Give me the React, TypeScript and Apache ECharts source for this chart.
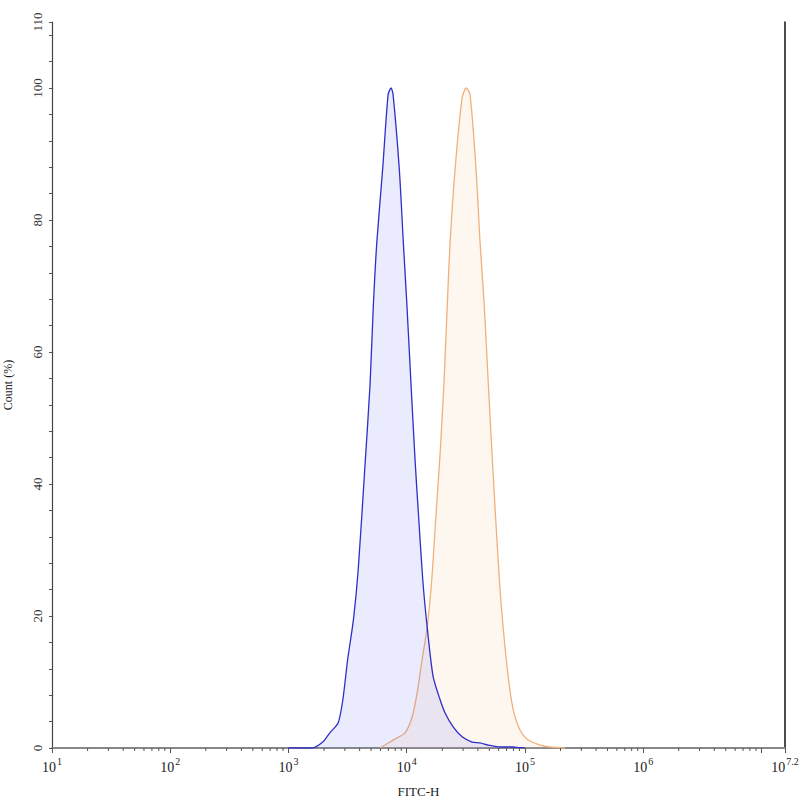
import React, { useEffect, useRef } from "react";
import * as echarts from "echarts";

// x values are log10(FITC-H)
const blueLog10 = [3.0, 3.2, 3.29, 3.35, 3.42, 3.46, 3.5, 3.55, 3.59, 3.648, 3.69, 3.718, 3.747, 3.798, 3.843, 3.868, 3.885, 3.938, 3.972, 4.001, 4.037, 4.071, 4.099, 4.136, 4.173, 4.223, 4.283, 4.325, 4.393, 4.469, 4.553, 4.62, 4.69, 4.79, 4.9, 4.94, 5.0];
const blueCount = [0, 0, 0.9, 2.3, 3.8, 7.3, 13.3, 19.5, 27, 43, 55, 67, 76.5, 88, 99, 100, 99, 87.6, 76.5, 67.4, 55, 43.6, 35.6, 25.5, 18.4, 10.9, 7.3, 5.3, 3.2, 1.7, 0.9, 0.76, 0.45, 0.15, 0.15, 0.08, 0];

const orangeLog10 = [3.775, 3.885, 3.986, 4.046, 4.088, 4.13, 4.173, 4.212, 4.249, 4.283, 4.316, 4.344, 4.367, 4.409, 4.469, 4.503, 4.536, 4.587, 4.621, 4.655, 4.691, 4.734, 4.784, 4.816, 4.858, 4.9, 4.959, 5.027, 5.129, 5.213, 5.34];
const orangeCount = [0, 1.2, 2.3, 4.7, 8.3, 13.3, 18.3, 25.5, 35.6, 44.7, 55.5, 67.4, 76.5, 87.6, 98.5, 100, 99, 87.6, 76.5, 67.4, 55, 40.6, 25.5, 18.3, 10.9, 5.9, 2.7, 1.2, 0.45, 0.15, 0];

const decades = [1, 2, 3, 4, 5, 6, 7];
const minorMultipliers = [2, 3, 4, 5, 6, 7, 8, 9];
const xLabelValues = [1, 2, 3, 4, 5, 6, 7.2];
const yLabelValues = [0, 20, 40, 60, 80, 100, 110];

const X_MIN = 1;
const X_MAX = 7.2;
const FONT = "'Liberation Serif', 'Times New Roman', Times, serif";

export default function App() {
  const ref = useRef<HTMLDivElement>(null);
  useEffect(() => {
    document.body.style.margin = "0";
    const chart = echarts.init(ref.current!, null, { renderer: "svg" });

    const minorTicks: number[][] = [];
    decades.forEach((d) => {
      minorMultipliers.forEach((m) => {
        const v = d + Math.log10(m);
        if (v < X_MAX) minorTicks.push([v, 0]);
      });
    });

    const fmtX = (v: number) => {
      const hit = xLabelValues.some((t) => Math.abs(t - v) < 1e-6);
      if (!hit) return "";
      const e = Math.abs(v - Math.round(v)) < 1e-6 ? String(Math.round(v)) : v.toFixed(1);
      return `{b|10}{s|${e}}`;
    };

    chart.setOption({
      animation: false,
      backgroundColor: "#fff",
      grid: { left: 52, right: 15, top: 22, bottom: 52, containLabel: false, outerBoundsMode: "none" },
      xAxis: [
        {
          type: "value",
          min: X_MIN,
          max: X_MAX,
          interval: 1,
          position: "bottom",
          name: "FITC-H",
          nameLocation: "middle",
          nameGap: 37,
          nameTextStyle: { fontFamily: FONT, fontSize: 13, color: "#222" },
          axisLine: { lineStyle: { color: "#555", width: 1.2 } },
          axisTick: { length: 5, lineStyle: { color: "#555" } },
          axisLabel: {
            margin: 8,
            formatter: fmtX,
            rich: {
              b: { fontFamily: FONT, fontSize: 14, color: "#222", lineHeight: 18, verticalAlign: "bottom" },
              s: { fontFamily: FONT, fontSize: 10, color: "#222", lineHeight: 18, verticalAlign: "top", padding: [0, 0, 7, 1] },
            },
          },
          splitLine: { show: false },
        },
        {
          type: "value",
          min: X_MIN,
          max: X_MAX,
          position: "top",
          axisLine: { show: true, lineStyle: { color: "#888", width: 2 } },
          axisTick: { show: false },
          axisLabel: { show: false },
          splitLine: { show: false },
        },
      ],
      yAxis: [
        {
          type: "value",
          min: 0,
          max: 110,
          interval: 4,
          name: "Count (%)",
          nameLocation: "middle",
          nameGap: 38,
          nameRotate: 90,
          nameTextStyle: { fontFamily: FONT, fontSize: 12, color: "#222" },
          axisLine: { show: true, lineStyle: { color: "#444", width: 1.2 } },
          axisTick: { show: true, length: 3, lineStyle: { color: "#555" } },
          axisLabel: {
            rotate: 90,
            margin: 8,
            fontFamily: FONT,
            fontSize: 13,
            color: "#333",
            formatter: (v: number) => (yLabelValues.indexOf(v) >= 0 ? String(v) : ""),
          },
          splitLine: { show: false },
        },
        {
          type: "value",
          min: 0,
          max: 110,
          position: "right",
          axisLine: { show: true, lineStyle: { color: "#111", width: 1.5 } },
          axisTick: { show: false },
          axisLabel: { show: false },
          splitLine: { show: false },
        },
      ],
      series: [
        {
          type: "line",
          name: "orange",
          data: orangeLog10.map((x, i) => [x, orangeCount[i]]),
          smooth: 0.25,
          showSymbol: false,
          lineStyle: { color: "#f0b07a", width: 1.3 },
          areaStyle: { color: "rgba(250,195,140,0.2)" },
          z: 2,
        },
        {
          type: "line",
          name: "blue",
          data: blueLog10.map((x, i) => [x, blueCount[i]]),
          smooth: 0.25,
          showSymbol: false,
          lineStyle: { color: "#2e2ec8", width: 1.3 },
          areaStyle: { color: "rgba(110,110,245,0.2)" },
          z: 3,
        },
        {
          type: "custom",
          name: "minorTicks",
          silent: true,
          clip: false,
          data: minorTicks,
          renderItem: (params: any, api: any) => {
            const p = api.coord([api.value(0), 0]);
            return {
              type: "line",
              shape: { x1: p[0], y1: p[1], x2: p[0], y2: p[1] + 3 },
              style: { stroke: "#555", lineWidth: 1 },
            };
          },
          z: 5,
        },
      ],
    });
    return () => chart.dispose();
  }, []);
  return <div ref={ref} style={{ width: 800, height: 800 }} />;
}
